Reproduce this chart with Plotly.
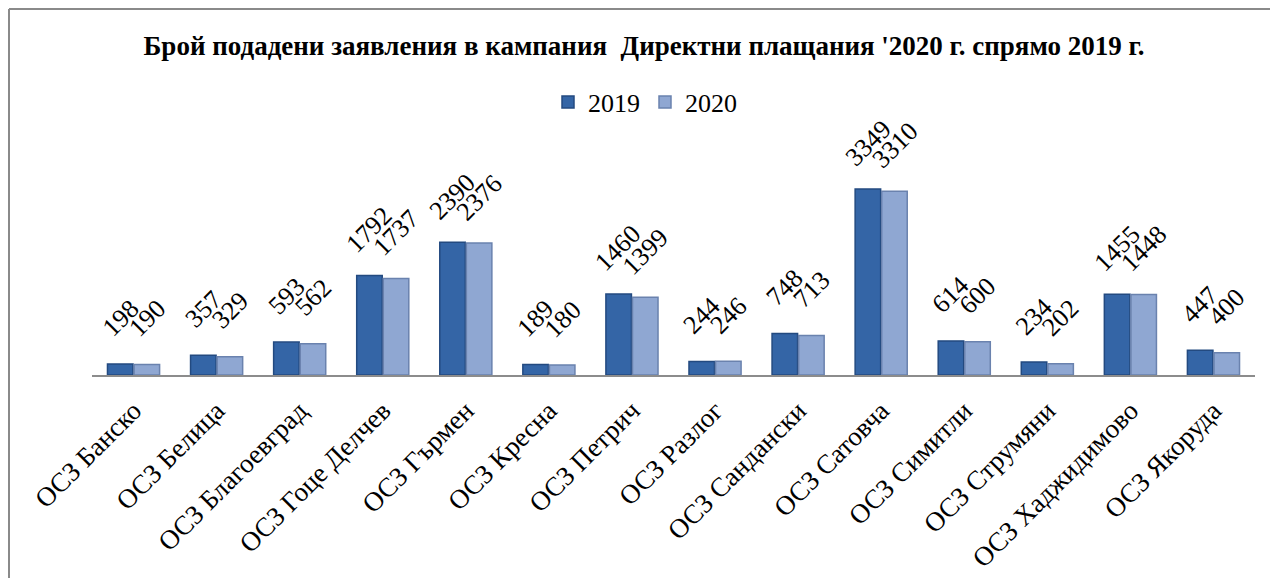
import plotly.graph_objects as go

categories = ["ОСЗ Банско", "ОСЗ Белица", "ОСЗ Благоевград", "ОСЗ Гоце Делчев", "ОСЗ Гърмен",
              "ОСЗ Кресна", "ОСЗ Петрич", "ОСЗ Разлог", "ОСЗ Сандански", "ОСЗ Сатовча",
              "ОСЗ Симитли", "ОСЗ Струмяни", "ОСЗ Хаджидимово", "ОСЗ Якоруда"]
values_2019 = [198, 357, 593, 1792, 2390, 189, 1460, 244, 748, 3349, 614, 234, 1455, 447]
values_2020 = [190, 329, 562, 1737, 2376, 180, 1399, 246, 713, 3310, 600, 202, 1448, 400]
series_names = ["2019", "2020"]
title_text = "Брой подадени заявления в кампания  Директни плащания '2020 г. спрямо 2019 г."

FONT = "Liberation Serif"
W, H = 1270, 578
ML, MR, MT, MB = 92, 15, 120, 203
PW = W - ML - MR
PH = H - MT - MB

fill = ["#3465A6", "#8FA7D2"]
edge = ["#234A80", "#6A82AE"]

fig = go.Figure()
for name, vals, fc, ec in zip(series_names, [values_2019, values_2020], fill, edge):
    fig.add_trace(go.Bar(
        name=name, x=categories, y=vals,
        marker=dict(color=fc, line=dict(color=ec, width=1.5)),
        hoverinfo="x+y",
    ))

annotations = []
for i, vals in enumerate([values_2019, values_2020]):
    shift = -13.5 if i == 0 else 13.5
    for c, v in zip(categories, vals):
        annotations.append(dict(
            x=c, y=v, xref="x", yref="y", text=str(v), showarrow=False,
            textangle=-45, xanchor="center", yanchor="middle",
            xshift=shift, yshift=46,
            font=dict(family=FONT, size=26, color="#000000"),
        ))

def px_x(p):
    return (p - ML) / PW

def px_y(p):
    return (H - MB - p) / PH

shapes = [
    dict(type="line", xref="paper", yref="paper", x0=px_x(9), x1=px_x(1290), y0=px_y(9), y1=px_y(9),
         line=dict(color="#8A8A8A", width=2)),
    dict(type="line", xref="paper", yref="paper", x0=px_x(9), x1=px_x(9), y0=px_y(9), y1=px_y(600),
         line=dict(color="#8A8A8A", width=2)),
]

fig.update_layout(
    width=W, height=H,
    margin=dict(l=ML, r=MR, t=MT, b=MB, autoexpand=False),
    paper_bgcolor="white", plot_bgcolor="white",
    barmode="group", bargap=0.36, bargroupgap=0.04,
    title=dict(text="<b>" + title_text + "</b>", x=644 / W, xanchor="center", xref="container",
               y=1 - 46 / H, yanchor="middle", yref="container",
               font=dict(family=FONT, size=27, color="#000000")),
    legend=dict(orientation="h", x=px_x(645), xanchor="center", y=px_y(102), yanchor="middle",
                font=dict(family=FONT, size=26, color="#000000"), itemwidth=30,
                bgcolor="rgba(0,0,0,0)"),
    xaxis=dict(showline=True, linecolor="#8C8C8C", linewidth=2, ticks="", tickangle=-45,
               tickfont=dict(family=FONT, size=27, color="#000000"), ticklabelstandoff=7,
               showgrid=False, automargin=False),
    yaxis=dict(range=[0, PH / ((375 - 189) / 3349)], visible=False, showgrid=False,
               automargin=False),
    annotations=annotations,
    shapes=shapes,
    font=dict(family=FONT),
)

fig.write_html("out.html")
